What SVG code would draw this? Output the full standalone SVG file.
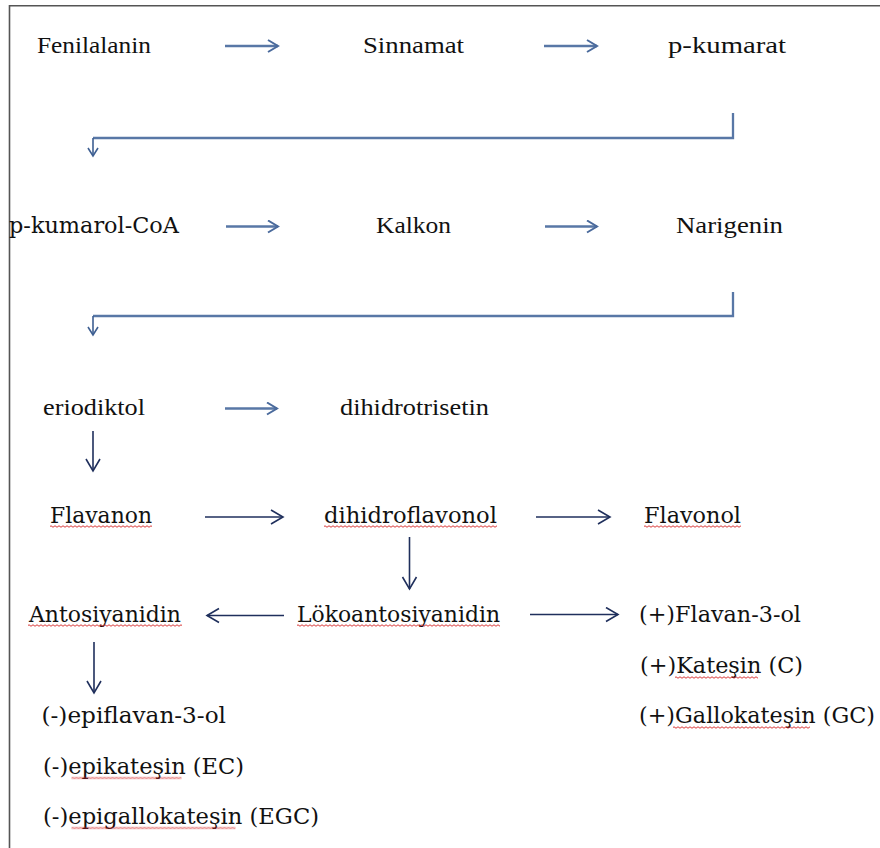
<svg xmlns="http://www.w3.org/2000/svg" width="880" height="848" viewBox="0 0 880 848">
<defs>
<style>
.t{font-family:"Liberation Serif","Times New Roman",serif;font-size:24px;fill:#111}
.c{font-family:"DejaVu Serif","Liberation Serif",serif;font-size:22px;fill:#111}
.bl{stroke:#5877A6;stroke-width:2.3;fill:none}
.nv{stroke:#1F2F5C;stroke-width:1.6;fill:none}
.wv{fill:url(#wavy)}
</style>
<marker id="hb" markerUnits="userSpaceOnUse" markerWidth="14" markerHeight="16" refX="11" refY="7" orient="auto">
<path d="M1,1 L11,7 L1,13" fill="none" stroke="#4A6A9C" stroke-width="2"/>
</marker>
<marker id="hbs" markerUnits="userSpaceOnUse" markerWidth="12" markerHeight="14" refX="9" refY="6" orient="auto">
<path d="M1,1 L9,6 L1,11" fill="none" stroke="#3E5F92" stroke-width="1.6"/>
</marker>
<marker id="hn" markerUnits="userSpaceOnUse" markerWidth="16" markerHeight="18" refX="13" refY="8" orient="auto">
<path d="M1,1 L13,8 L1,15" fill="none" stroke="#1F2F5C" stroke-width="1.6"/>
</marker>
<pattern id="wavy" patternUnits="userSpaceOnUse" width="4" height="3">
<path d="M0,1.5 Q1,0 2,1.5 T4,1.5" fill="none" stroke="#D42020" stroke-width="0.9"/>
</pattern>
</defs>
<rect width="880" height="848" fill="#fff"/>
<g id="frame" stroke="#555" stroke-width="1.6" fill="none">
<line x1="9" y1="5.8" x2="880" y2="5.8"/>
<line x1="9.5" y1="5" x2="9.5" y2="848"/>
</g>

<g id="connectors">
<line class="bl" x1="225" y1="46" x2="278" y2="46" marker-end="url(#hb)"/>
<line class="bl" x1="544" y1="46" x2="597" y2="46" marker-end="url(#hb)"/>
<path class="bl" d="M733,113 V138 H93"/>
<line stroke="#3E5F92" stroke-width="1.6" x1="93" y1="138" x2="93" y2="156" marker-end="url(#hbs)"/>
<line class="bl" x1="226" y1="226.5" x2="278" y2="226.5" marker-end="url(#hb)"/>
<line class="bl" x1="545" y1="226.5" x2="597" y2="226.5" marker-end="url(#hb)"/>
<path class="bl" d="M733,292 V316 H93"/>
<line stroke="#3E5F92" stroke-width="1.6" x1="93" y1="316" x2="93" y2="335" marker-end="url(#hbs)"/>
<line class="bl" x1="225" y1="408.5" x2="277" y2="408.5" marker-end="url(#hb)"/>
<line class="nv" x1="93" y1="431" x2="93" y2="471" marker-end="url(#hn)"/>
<line class="nv" x1="205" y1="517" x2="283" y2="517" marker-end="url(#hn)"/>
<line class="nv" x1="536" y1="517" x2="610" y2="517" marker-end="url(#hn)"/>
<line class="nv" x1="409.5" y1="537" x2="409.5" y2="589" marker-end="url(#hn)"/>
<line class="nv" x1="284" y1="615.5" x2="207" y2="615.5" marker-end="url(#hn)"/>
<line class="nv" x1="530" y1="614.5" x2="618" y2="614.5" marker-end="url(#hn)"/>
<line class="nv" x1="94" y1="642" x2="94" y2="693" marker-end="url(#hn)"/>
</g>

<g id="fenilalanin"><text class="t" x="37" y="52.5" textLength="114" lengthAdjust="spacingAndGlyphs">Fenilalanin</text></g>
<g id="sinnamat"><text class="t" x="363" y="52.5" textLength="101" lengthAdjust="spacingAndGlyphs">Sinnamat</text></g>
<g id="p-kumarat"><text class="t" x="668" y="52.5" textLength="118" lengthAdjust="spacingAndGlyphs">p-kumarat</text></g>

<g id="p-kumarol-coa"><text class="c" x="9" y="233" textLength="170" lengthAdjust="spacingAndGlyphs">p-kumarol-CoA</text></g>
<g id="kalkon"><text class="t" x="376" y="233" textLength="75" lengthAdjust="spacingAndGlyphs">Kalkon</text></g>
<g id="narigenin"><text class="t" x="676" y="233" textLength="107" lengthAdjust="spacingAndGlyphs">Narigenin</text></g>

<g id="eriodiktol"><text class="t" x="43" y="414.5" textLength="102" lengthAdjust="spacingAndGlyphs">eriodiktol</text></g>
<g id="dihidrotrisetin"><text class="t" x="340" y="414.5" textLength="149" lengthAdjust="spacingAndGlyphs">dihidrotrisetin</text></g>

<g id="flavanon"><text class="c" x="50" y="522.7" textLength="102" lengthAdjust="spacingAndGlyphs">Flavanon</text>
<rect class="wv" transform="translate(50,525)" width="102" height="3"/></g>
<g id="dihidroflavonol"><text class="c" x="324" y="522.7" textLength="173" lengthAdjust="spacingAndGlyphs">dihidroflavonol</text>
<rect class="wv" transform="translate(324,525)" width="173" height="3"/></g>
<g id="flavonol"><text class="c" x="644" y="522.7" textLength="97" lengthAdjust="spacingAndGlyphs">Flavonol</text>
<rect class="wv" transform="translate(644,525)" width="97" height="3"/></g>

<g id="antosiyanidin"><text class="c" x="29" y="621.5" textLength="152" lengthAdjust="spacingAndGlyphs">Antosiyanidin</text>
<rect class="wv" transform="translate(28,624)" width="154" height="3"/></g>
<g id="lokoantosiyanidin"><text class="c" x="297" y="621.5" textLength="203" lengthAdjust="spacingAndGlyphs">Lökoantosiyanidin</text>
<rect class="wv" transform="translate(297,624)" width="203" height="3"/></g>
<g id="flavan-3-ol"><text class="c" x="639" y="621.5" textLength="162" lengthAdjust="spacingAndGlyphs">(+)Flavan-3-ol</text></g>
<g id="katesin"><text class="c" x="640" y="673.3" textLength="163" lengthAdjust="spacingAndGlyphs">(+)Kateşin (C)</text>
<rect class="wv" transform="translate(675,676)" width="83" height="3"/></g>
<g id="gallokatesin"><text class="c" x="639" y="723.3" textLength="236" lengthAdjust="spacingAndGlyphs">(+)Gallokateşin (GC)</text>
<rect class="wv" transform="translate(673,726)" width="137" height="3"/></g>

<g id="epiflavan-3-ol"><text class="c" x="41.5" y="722.7" textLength="184.5" lengthAdjust="spacingAndGlyphs">(-)epiflavan-3-ol</text></g>
<g id="epikatesin"><text class="c" x="43" y="774" textLength="201" lengthAdjust="spacingAndGlyphs">(-)epikateşin (EC)</text>
<rect class="wv" transform="translate(71.5,776.5)" width="110" height="3"/></g>
<g id="epigallokatesin"><text class="c" x="43" y="824" textLength="276" lengthAdjust="spacingAndGlyphs">(-)epigallokateşin (EGC)</text>
<rect class="wv" transform="translate(71.5,826.5)" width="164" height="3"/></g>
</svg>
